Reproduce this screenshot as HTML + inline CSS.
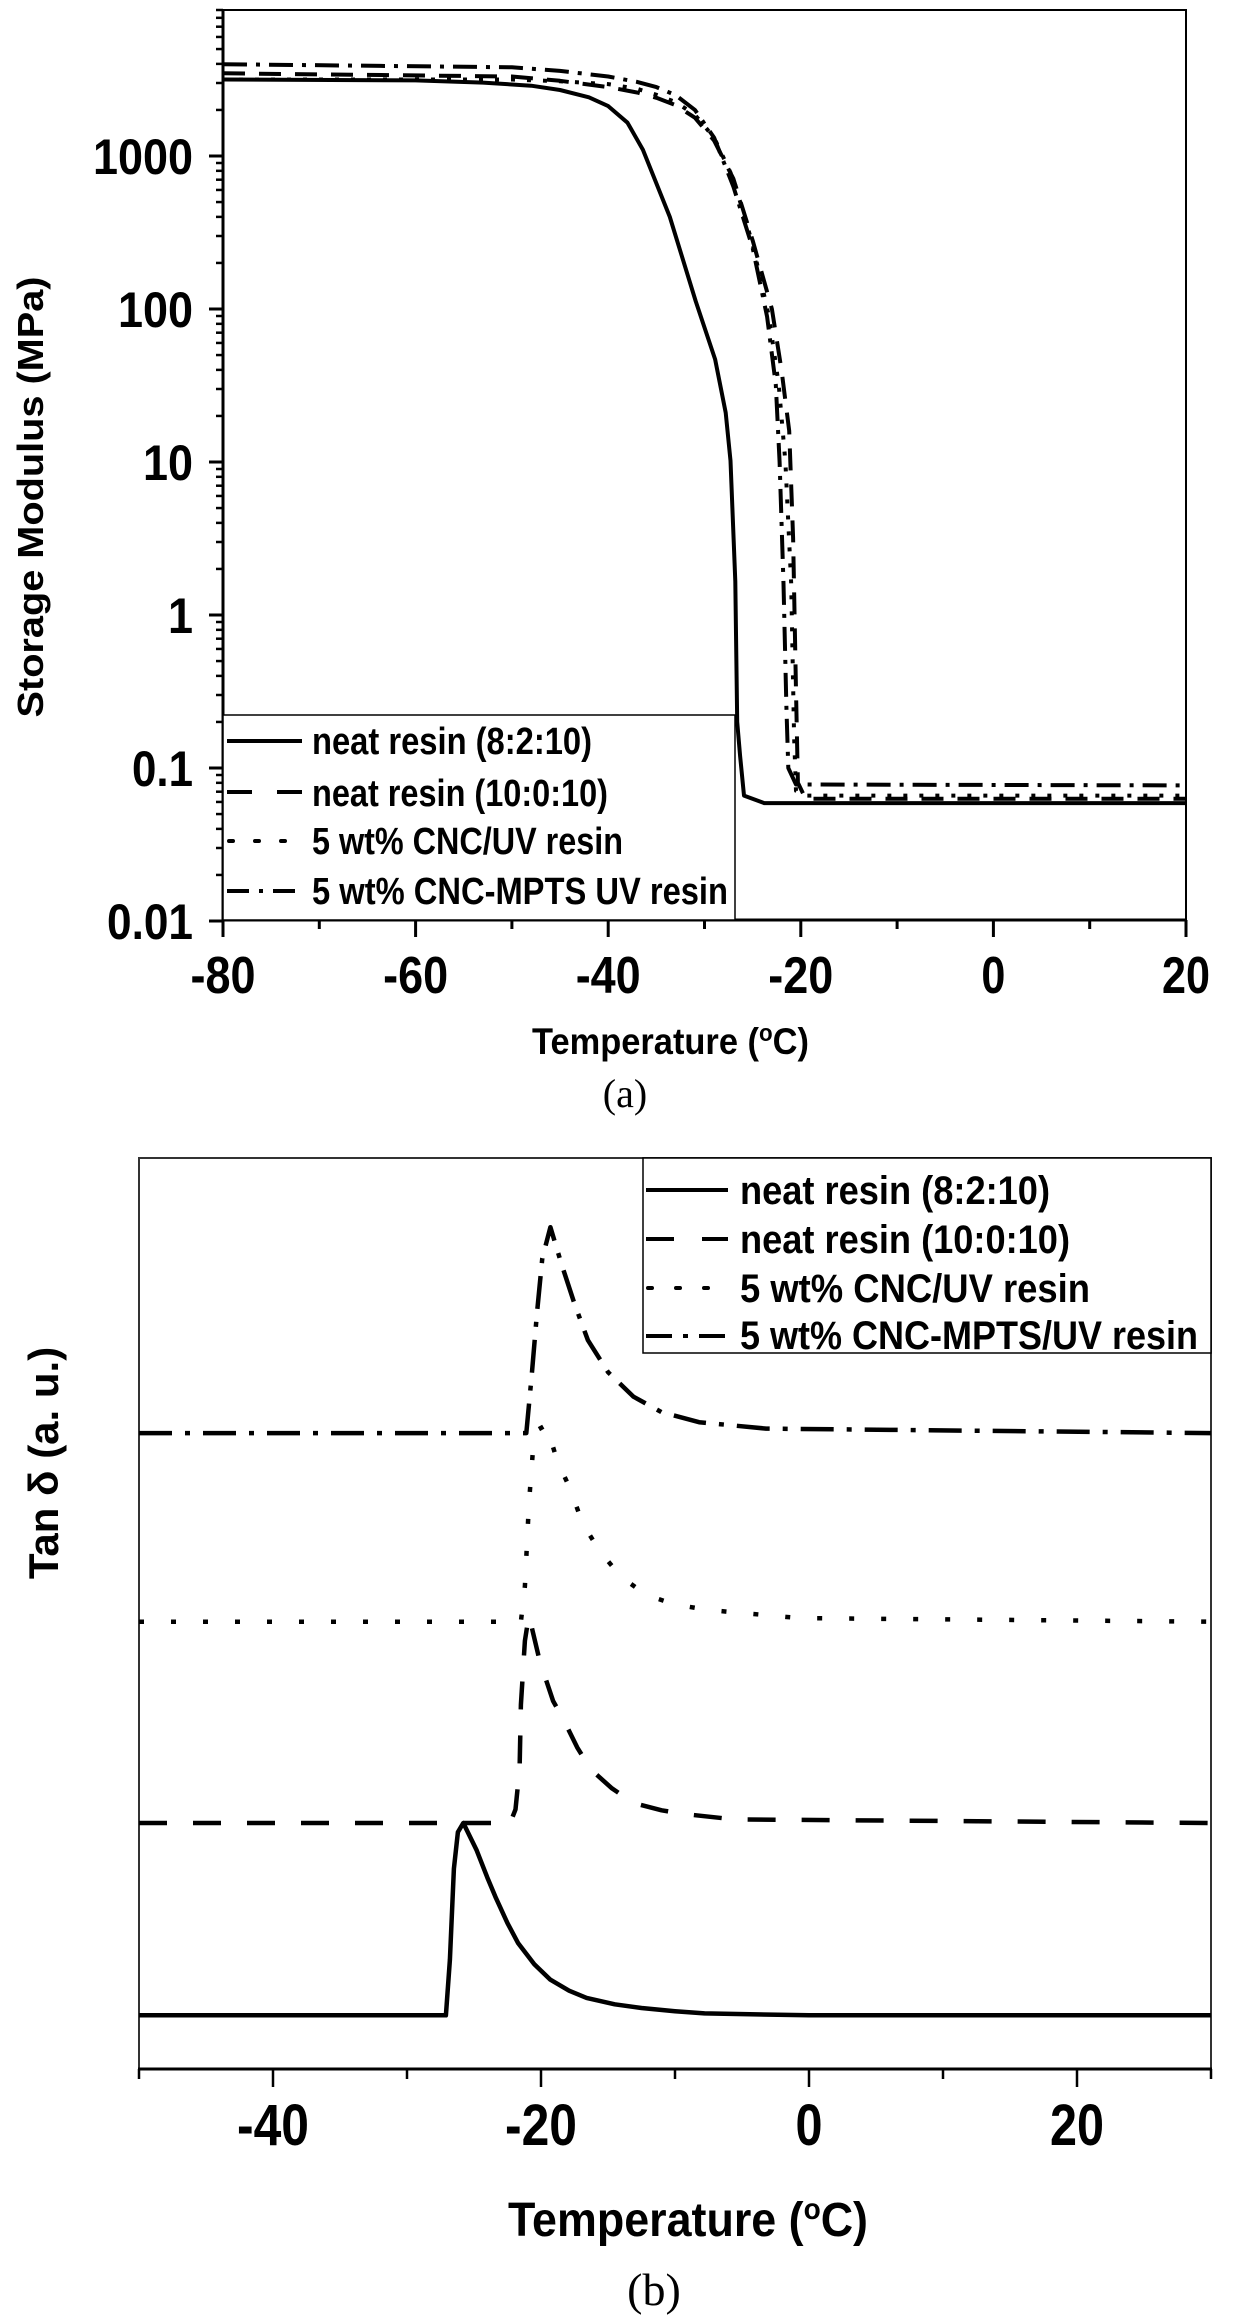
<!DOCTYPE html>
<html><head><meta charset="utf-8"><style>
html,body{margin:0;padding:0;background:#fff;}
svg{display:block;}
.lbl{font-family:"Liberation Sans Narrow","Liberation Sans",sans-serif;font-weight:bold;fill:#000;}
.ttl{font-family:"Liberation Sans",sans-serif;font-weight:bold;fill:#000;}
.cap{font-family:"Liberation Serif",serif;fill:#000;}
</style></head><body>
<svg id="fig" width="1239" height="2318" viewBox="0 0 1239 2318" xmlns="http://www.w3.org/2000/svg">
<rect x="0" y="0" width="1239" height="2318" fill="#fff"/>
<g id="chartA">
  <rect x="223" y="10" width="963" height="910" fill="none" stroke="#000" stroke-width="2"/>
  <line x1="223" y1="10" x2="223" y2="921" stroke="#000" stroke-width="3"/>
  <line x1="222" y1="920" x2="1187" y2="920" stroke="#000" stroke-width="3"/>
  <g id="gridA"></g>
  <g id="linesA"></g>
  <g>
    <rect x="223" y="715" width="512" height="205" fill="#fff" stroke="#000" stroke-width="1.5"/>
    <line x1="227" y1="741" x2="302" y2="741" stroke="#000" stroke-width="4"/>
    <line x1="227" y1="792" x2="302" y2="792" stroke="#000" stroke-width="4" stroke-dasharray="25,25"/>
    <line x1="229" y1="841" x2="302" y2="841" stroke="#000" stroke-width="4" stroke-dasharray="4,22" stroke-linecap="round"/>
    <line x1="227" y1="891" x2="302" y2="891" stroke="#000" stroke-width="4" stroke-dasharray="22,10,4,10"/>
    <text class="lbl" x="312" y="754" font-size="38" textLength="280" lengthAdjust="spacingAndGlyphs">neat resin (8:2:10)</text>
    <text class="lbl" x="312" y="806" font-size="38" textLength="296" lengthAdjust="spacingAndGlyphs">neat resin (10:0:10)</text>
    <text class="lbl" x="312" y="854" font-size="38" textLength="311" lengthAdjust="spacingAndGlyphs">5 wt% CNC/UV resin</text>
    <text class="lbl" x="312" y="904" font-size="38" textLength="416" lengthAdjust="spacingAndGlyphs">5 wt% CNC-MPTS UV resin</text>
  </g>
  <text class="ttl" transform="translate(43,497) rotate(-90)" text-anchor="middle" font-size="36" textLength="441" lengthAdjust="spacingAndGlyphs">Storage Modulus (MPa)</text>
  <text class="lbl" x="532" y="1054" font-size="37" textLength="277" lengthAdjust="spacingAndGlyphs">Temperature (<tspan font-size="24" dy="-13">o</tspan><tspan dy="13">C)</tspan></text>
  <text class="cap" x="625" y="1107" font-size="40" text-anchor="middle">(a)</text>
</g>

<g id="chartB">
  <rect x="139" y="1158" width="1072" height="911" fill="none" stroke="#333" stroke-width="2"/>
  <line x1="138" y1="2069" x2="1212" y2="2069" stroke="#000" stroke-width="3"/>
  <g id="gridB"></g>
  <g id="linesB"></g>
  <g>
    <rect x="643" y="1158" width="568" height="195" fill="#fff" stroke="#000" stroke-width="1.5"/>
    <line x1="646" y1="1190" x2="728" y2="1190" stroke="#000" stroke-width="4"/>
    <line x1="646" y1="1239" x2="728" y2="1239" stroke="#000" stroke-width="4" stroke-dasharray="28,28"/>
    <line x1="648" y1="1288" x2="728" y2="1288" stroke="#000" stroke-width="4" stroke-dasharray="4,24" stroke-linecap="round"/>
    <line x1="646" y1="1336" x2="728" y2="1336" stroke="#000" stroke-width="4" stroke-dasharray="26,11,5,11"/>
    <text class="lbl" x="740" y="1204" font-size="40" textLength="310" lengthAdjust="spacingAndGlyphs">neat resin (8:2:10)</text>
    <text class="lbl" x="740" y="1253" font-size="40" textLength="330" lengthAdjust="spacingAndGlyphs">neat resin (10:0:10)</text>
    <text class="lbl" x="740" y="1302" font-size="40" textLength="350" lengthAdjust="spacingAndGlyphs">5 wt% CNC/UV resin</text>
    <text class="lbl" x="740" y="1349" font-size="40" textLength="458" lengthAdjust="spacingAndGlyphs">5 wt% CNC-MPTS/UV resin</text>
  </g>
  <text class="ttl" transform="translate(58,1463) rotate(-90)" text-anchor="middle" font-size="42">Tan δ (a. u.)</text>
  <text class="lbl" x="508" y="2236" font-size="48" textLength="360" lengthAdjust="spacingAndGlyphs">Temperature (<tspan font-size="30" dy="-17">o</tspan><tspan dy="17">C)</tspan></text>
  <text class="cap" x="654" y="2305" font-size="46" text-anchor="middle">(b)</text>
</g>
</svg>
<script>
// ===== Chart A data (storage modulus, MPa) =====
const aTicksX = [-80, -60, -40, -20, 0, 20];
const aTicksY = [0.01, 0.1, 1, 10, 100, 1000];
const aTickLabelsY = ["0.01", "0.1", "1", "10", "100", "1000"];
const aSolidT = [-80, -60, -53, -48, -45, -42, -40, -38, -36.4, -33.6, -30.9, -28.9, -27.8, -27.3, -26.8, -26.6, -26.3, -25.9, -23.8, 20];
const aSolidE = [3160, 3120, 3020, 2880, 2700, 2420, 2120, 1650, 1100, 400, 112, 47, 21, 10.2, 1.66, 0.2, 0.12, 0.066, 0.059, 0.059];
const aDashT = [-80, -50, -45, -40, -37, -35, -33, -31, -29, -27, -25, -23, -22, -21.2, -20.8, -20.5, -20.3, -19.5, 20];
const aDashE = [3470, 3310, 3100, 2820, 2600, 2400, 2150, 1780, 1260, 710, 280, 100, 40, 16, 3.2, 0.32, 0.08, 0.063, 0.063];
const aDotT = [-80, -50, -45, -40, -37, -35, -33, -31, -29, -27, -25, -23.3, -22.3, -21.6, -21.0, -20.7, -20.5, -19.5, 20];
const aDotE = [3160, 3160, 3080, 2950, 2750, 2510, 2250, 1860, 1320, 710, 263, 89, 32, 10, 1.6, 0.16, 0.071, 0.066, 0.066];
const aDashDotT = [-80, -50, -45, -40, -37, -35, -33, -31, -29, -27, -25, -23.5, -22.6, -22.2, -21.8, -21.5, -21.3, -20.5, 20];
const aDashDotE = [3980, 3800, 3600, 3310, 3050, 2820, 2500, 2000, 1320, 630, 250, 89, 32, 10, 1.6, 0.25, 0.1, 0.078, 0.077];

// ===== Chart B data (tan delta, arbitrary units, stacked) =====
const bTicksX = [-40, -20, 0, 20];
const bSolidT = [-50, -27.1, -26.8, -26.5, -26.2, -25.8, -24.8, -24.0, -23.4, -22.5, -21.7, -20.5, -19.3, -17.9, -16.6, -14.5, -12.5, -10, -7.8, 0, 30];
const bSolidV = [5.9, 5.9, 12, 22, 26, 27.0, 24.0, 21.0, 18.9, 16.0, 13.8, 11.5, 9.8, 8.6, 7.8, 7.1, 6.7, 6.35, 6.1, 5.9, 5.9];
const bDashT = [-50, -22.3, -21.9, -21.6, -21.5, -21.2, -20.9, -20.1, -19.1, -18.3, -17.3, -16.3, -14.7, -13.1, -11, -9.4, -5.6, 30];
const bDashV = [27.0, 27.0, 28.5, 33, 40, 47, 49.8, 44.8, 40.4, 38.3, 35.3, 32.9, 30.8, 29.2, 28.4, 28.0, 27.4, 27.0];
const bDotT = [-50, -21.5, -21.2, -20.9, -20.6, -20.2, -19.6, -18.8, -17.8, -16.9, -15.6, -14, -12.1, -10, -7.6, -0.7, 30];
const bDotV = [49.1, 49.1, 53, 62, 68, 70.2, 70.7, 66.8, 63.6, 59.9, 56.8, 54.0, 52.0, 51.0, 50.4, 49.5, 49.1];
const bDashDotT = [-50, -21.1, -20.7, -20.3, -19.9, -19.3, -18.5, -17.5, -16.5, -15.0, -13.1, -11, -8.2, -3.2, 30];
const bDashDotV = [69.8, 69.8, 76, 83, 89, 92.4, 88.5, 84, 80, 76.5, 73.8, 72.1, 71.0, 70.3, 69.8];

const NS = "http://www.w3.org/2000/svg";
function mk(tag, attrs, parent) {
  const e = document.createElementNS(NS, tag);
  for (const k in attrs) e.setAttribute(k, attrs[k]);
  parent.appendChild(e);
  return e;
}
function labelWidth(s, digit, minus, dot) {
  let w = 0;
  for (const c of s) w += c === "-" ? minus : (c === "." ? dot : digit);
  return w;
}
// axis functions
const ax = t => 223 + (t + 80) * (963 / 100);
const ay = v => 156 + (3 - Math.log10(v)) * 153;
const bx = t => 139 + (t + 50) * (1072 / 80);
const by = v => 2069 - v * 9.11;

// Chart A ticks
const gA = document.getElementById("gridA");
for (let t = -80; t <= 20; t += 10) {
  const major = t % 20 === 0;
  const l = mk("line", {x1: ax(t), y1: 920, x2: ax(t), y2: 920 + (major ? 17 : 9), stroke: "#000", "stroke-width": 3}, gA);
  
  
}
aTicksX.forEach(t => {
  const s = String(t);
  const tx = mk("text", {x: ax(t), y: 993, "text-anchor": "middle", "font-size": 52, class: "lbl", textLength: labelWidth(s, 24, 17, 12), lengthAdjust: "spacingAndGlyphs"}, gA);
  tx.textContent = s;
  
  
});
for (let d = -2; d <= 3; d++) {
  for (let m = 1; m <= 9; m++) {
    const v = m * Math.pow(10, d);
    const y = ay(v);
    if (y < 10) continue;
    const l = mk("line", {x1: 223, y1: y, x2: 223 - (m === 1 ? 14 : 7), y2: y, stroke: "#000", "stroke-width": m === 1 ? 3 : 2.5}, gA);
    
    
  }
}
aTicksY.forEach((v, i) => {
  const s = aTickLabelsY[i];
  const w = labelWidth(s, 25, 17, 11);
  const tx = mk("text", {x: 193 - w, y: ay(v) + 18, "font-size": 50, class: "lbl", textLength: w, lengthAdjust: "spacingAndGlyphs"}, gA);
  tx.textContent = s;
  
  
});

// Chart A lines
const lA = document.getElementById("linesA");
function seriesA(T, E, dash, name) {
  const pts = T.map((t, i) => ax(t).toFixed(1) + "," + ay(E[i]).toFixed(1)).join(" ");
  const p = mk("polyline", {points: pts, fill: "none", stroke: "#000", "stroke-width": 4, "stroke-linejoin": "round", "stroke-dasharray": dash}, lA);
  
  
}
seriesA(aDashT, aDashE, "22,14", "line-neat-resin-10-0-10");
seriesA(aDotT, aDotE, "4,12", "line-cnc-uv-resin");
seriesA(aDashDotT, aDashDotE, "24,9,4,9", "line-cnc-mpts-uv-resin");
seriesA(aSolidT, aSolidE, "none", "line-neat-resin-8-2-10");

// Chart B ticks
const gB = document.getElementById("gridB");
for (let t = -50; t <= 30; t += 10) {
  const major = t % 20 === 0;
  const l = mk("line", {x1: bx(t), y1: 2069, x2: bx(t), y2: 2069 + (major ? 18 : 10), stroke: "#000", "stroke-width": 2.5}, gB);
  
  
}
bTicksX.forEach(t => {
  const s = String(t);
  const tx = mk("text", {x: bx(t), y: 2145, "text-anchor": "middle", "font-size": 58, class: "lbl", textLength: labelWidth(s, 27, 18, 12), lengthAdjust: "spacingAndGlyphs"}, gB);
  tx.textContent = s;
  
  
});

// Chart B lines
const lB = document.getElementById("linesB");
function seriesB(T, V, dash, name) {
  const pts = T.map((t, i) => bx(t).toFixed(1) + "," + by(V[i]).toFixed(1)).join(" ");
  const p = mk("polyline", {points: pts, fill: "none", stroke: "#000", "stroke-width": 4.5, "stroke-linejoin": "round", "stroke-dasharray": dash}, lB);
  
  
}
seriesB(bDashT, bDashV, "28,26", "tan-line-neat-resin-10-0-10");
seriesB(bDotT, bDotV, "5,27", "tan-line-cnc-uv-resin");
seriesB(bDashDotT, bDashDotV, "33,13,5,13", "tan-line-cnc-mpts-uv-resin");
seriesB(bSolidT, bSolidV, "none", "tan-line-neat-resin-8-2-10");
</script>
</body></html>
